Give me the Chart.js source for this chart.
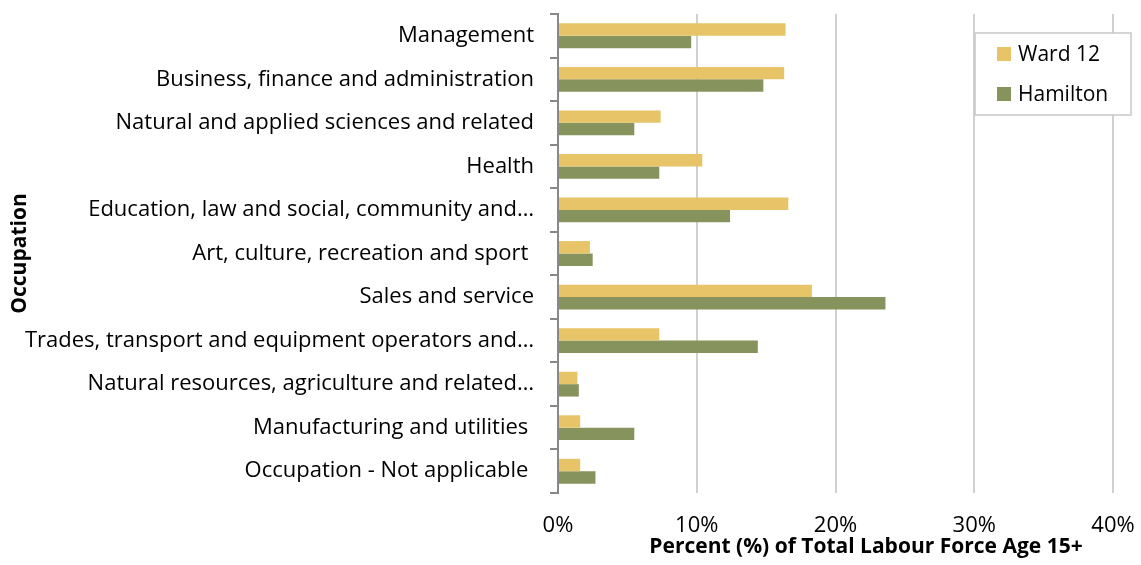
<!DOCTYPE html>
<html>
<head>
<meta charset="utf-8">
<script src="https://cdn.jsdelivr.net/npm/chart.js@4"></script>
<style>
  html, body { margin: 0; padding: 0; background: #fff; }
  #wrap { width: 1141px; height: 565px; }
</style>
</head>
<body>
<div id="wrap"><canvas id="chart" width="1141" height="565"></canvas></div>
<script>
// data (percent of labour force 15+)
let occupations = [
  'Management',
  'Business, finance and administration',
  'Natural and applied sciences and related',
  'Health',
  'Education, law and social, community and…',
  'Art, culture, recreation and sport ',
  'Sales and service',
  'Trades, transport and equipment operators and…',
  'Natural resources, agriculture and related…',
  'Manufacturing and utilities ',
  'Occupation - Not applicable '
]
let ward12 = [16.4, 16.3, 7.4, 10.4, 16.6, 2.3, 18.3, 7.3, 1.4, 1.6, 1.6]
let hamilton = [9.6, 14.8, 5.5, 7.3, 12.4, 2.5, 23.6, 14.4, 1.5, 5.5, 2.7]
let xTicks = [0, 10, 20, 30, 40]

let fontFamily = '"Open Sans", sans-serif'
let yellow = '#E8C468'
let green = '#86935C'

// legend box sits inside the plot, top right
let boxLegend = {
  id: 'boxLegend',
  afterDraw(chart) {
    let ctx = chart.ctx
    let x = 975, y = 33, w = 156, h = 82
    ctx.save()
    ctx.fillStyle = '#fff'
    ctx.fillRect(x, y, w, h)
    ctx.strokeStyle = '#c8c8c8'
    ctx.lineWidth = 1.5
    ctx.strokeRect(x, y, w, h)
    ctx.font = '21px ' + fontFamily
    ctx.textBaseline = 'middle'
    chart.data.datasets.forEach((ds, i) => {
      let cy = 54 + i * 40
      ctx.fillStyle = ds.backgroundColor
      ctx.fillRect(997, cy - 7, 14, 14)
      ctx.fillStyle = '#000'
      ctx.fillText(ds.label, 1018, cy + 1)
    })
    // x axis title
    ctx.font = 'bold 21px ' + fontFamily
    ctx.textAlign = 'center'
    ctx.textBaseline = 'alphabetic'
    ctx.fillText('Percent (%) of Total Labour Force Age 15+', 866, 553)
    ctx.restore()
  }
}

new Chart(document.getElementById('chart'), {
  type: 'bar',
  data: {
    labels: occupations,
    datasets: [
      { label: 'Ward 12', data: ward12, backgroundColor: yellow },
      { label: 'Hamilton', data: hamilton, backgroundColor: green }
    ]
  },
  options: {
    indexAxis: 'y',
    responsive: false,
    animation: false,
    layout: { padding: { top: 14, right: 28, left: 0, bottom: 0 } },
    datasets: { bar: { categoryPercentage: 0.57, barPercentage: 1 } },
    plugins: { legend: { display: false }, tooltip: { enabled: false } },
    scales: {
      x: {
        min: 0, max: 40,
        afterBuildTicks: s => { s.ticks = xTicks.map(v => ({ value: v })) },
        afterFit: s => { s.height = 72; s.paddingLeft = 0; s.paddingRight = 0 },
        ticks: {
          callback: v => v + '%',
          color: '#000',
          padding: 20,
          font: { family: fontFamily, size: 22 }
        },
        grid: { color: '#d0d0d0', lineWidth: 2, drawTicks: false },
        border: { display: false }
      },
      y: {
        afterFit: s => { s.width = 558; s.paddingTop = 0; s.paddingBottom = 0 },
        ticks: {
          color: '#000',
          padding: 16,
          autoSkip: false,
          font: { family: fontFamily, size: 22 }
        },
        grid: { offset: true, drawOnChartArea: false, drawTicks: true, tickLength: 8, color: '#888', lineWidth: 2 },
        border: { color: '#888', width: 2 },
        title: {
          display: true,
          text: 'Occupation',
          color: '#000',
          padding: { top: 7, bottom: 0 },
          font: { family: fontFamily, size: 21, weight: 'bold' }
        }
      }
    }
  },
  plugins: [boxLegend]
})
</script>
</body>
</html>
